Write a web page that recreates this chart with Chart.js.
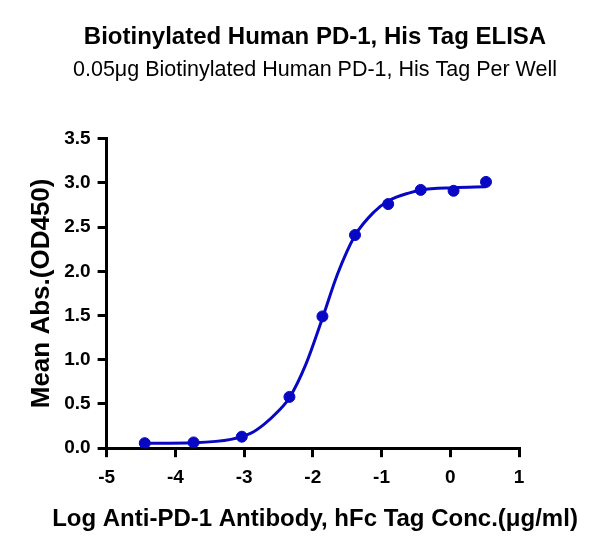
<!DOCTYPE html>
<html>
<head>
<meta charset="utf-8">
<script src="https://cdn.jsdelivr.net/npm/chart.js@4"></script>
<style>
  html, body { margin: 0; padding: 0; background: #fff; }
  #wrap { width: 600px; height: 557px; }
</style>
</head>
<body>
<div id="wrap"><canvas id="elisa"></canvas></div>
<script>
// measured points: log conc (ug/ml) vs mean OD450
const logConc = [-4.445, -3.735, -3.033, -2.34, -1.86, -1.386, -0.903, -0.43, 0.048, 0.52]
const meanAbs = [0.057, 0.065, 0.13, 0.58, 1.49, 2.41, 2.76, 2.92, 2.91, 3.01]

// fitted curve
const curveX = [-4.445, -3.735, -3.19, -2.90, -2.71, -2.50, -2.34, -2.10, -1.86, -1.64, -1.39, -1.11, -0.89, -0.58, -0.43, 0.05, 0.52]
const curveY = [0.055, 0.062, 0.10, 0.17, 0.27, 0.42, 0.57, 0.95, 1.47, 1.97, 2.40, 2.67, 2.80, 2.89, 2.92, 2.945, 2.955]

const xTicks = [-5, -4, -3, -2, -1, 0, 1]
const yTicks = [0, 0.5, 1, 1.5, 2, 2.5, 3, 3.5]

const xTitle = 'Log Anti-PD-1 Antibody, hFc Tag Conc.(μg/ml)'

const blue = '#0808c4'
const fam = 'Arial, "Liberation Sans", sans-serif'

const toXY = (xs, ys) => xs.map((x, i) => ({ x: x, y: ys[i] }))

const axisStyle = {
    border: { display: true, color: '#000', width: 3 },
    grid: { drawOnChartArea: false, drawTicks: true, tickLength: 9, color: '#000', lineWidth: 3 },
}

// titles wider than the plot: keep them centred a bit right of the canvas, like the original,
// and draw the x title without chart.js squeezing it to the axis width
const titleFix = {
    id: 'titleFix',
    afterLayout(chart) {
        const mid = 315
        chart.boxes.forEach(b => {
            if (b.position === 'top' && b.options && b.options.text !== undefined) {
                const d = mid - (b.left + b.right) / 2
                b.left += d
                b.right += d
            }
        })
    },
    afterDraw(chart) {
        const c = chart.ctx
        const x = chart.scales.x
        c.save()
        c.font = 'bold 24px ' + fam
        c.fillStyle = '#000'
        c.textAlign = 'center'
        c.textBaseline = 'middle'
        c.fillText(xTitle, 315, x.bottom + 21)
        c.restore()
    }
}

const ctx = document.getElementById('elisa')
new Chart(ctx, {
    type: 'scatter',
    data: {
        datasets: [{
            label: 'fit',
            data: toXY(curveX, curveY),
            showLine: true,
            borderColor: blue,
            borderWidth: 3,
            pointRadius: 0,
            cubicInterpolationMode: 'monotone',
            order: 2
        }, {
            label: 'data',
            data: toXY(logConc, meanAbs),
            showLine: false,
            backgroundColor: blue,
            borderColor: blue,
            pointRadius: 5.5,
            order: 1
        }]
    },
    options: {
        responsive: true,
        maintainAspectRatio: false,
        animation: false,
        layout: { padding: { left: 22, right: 81, top: 0, bottom: 59 } },
        plugins: {
            legend: { display: false },
            tooltip: { enabled: false },
            title: {
                display: true,
                text: 'Biotinylated Human PD-1, His Tag ELISA',
                color: '#000',
                font: { family: fam, size: 24, weight: 'bold' },
                padding: { top: 23, bottom: 5 }
            },
            subtitle: {
                display: true,
                text: '0.05μg Biotinylated Human PD-1, His Tag Per Well',
                color: '#000',
                font: { family: fam, size: 21.5 },
                padding: { bottom: 56 }
            }
        },
        scales: {
            x: {
                type: 'linear',
                min: -5,
                max: 1,
                afterBuildTicks: (s) => { s.ticks = xTicks.map(v => ({ value: v })) },
                ticks: {
                    color: '#000',
                    font: { family: fam, size: 19, weight: 'bold' },
                    padding: 9,
                    callback: (v) => v.toString()
                },
                ...axisStyle
            },
            y: {
                min: 0,
                max: 3.5,
                afterBuildTicks: (s) => { s.ticks = yTicks.map(v => ({ value: v })) },
                ticks: {
                    color: '#000',
                    font: { family: fam, size: 19, weight: 'bold' },
                    padding: 7,
                    callback: (v) => v.toFixed(1)
                },
                title: {
                    display: true,
                    text: 'Mean Abs.(OD450)',
                    color: '#000',
                    font: { family: fam, size: 26, weight: 'bold' },
                    padding: { top: 4, bottom: 0 }
                },
                ...axisStyle
            }
        }
    },
    plugins: [titleFix]
})
</script>
</body>
</html>
